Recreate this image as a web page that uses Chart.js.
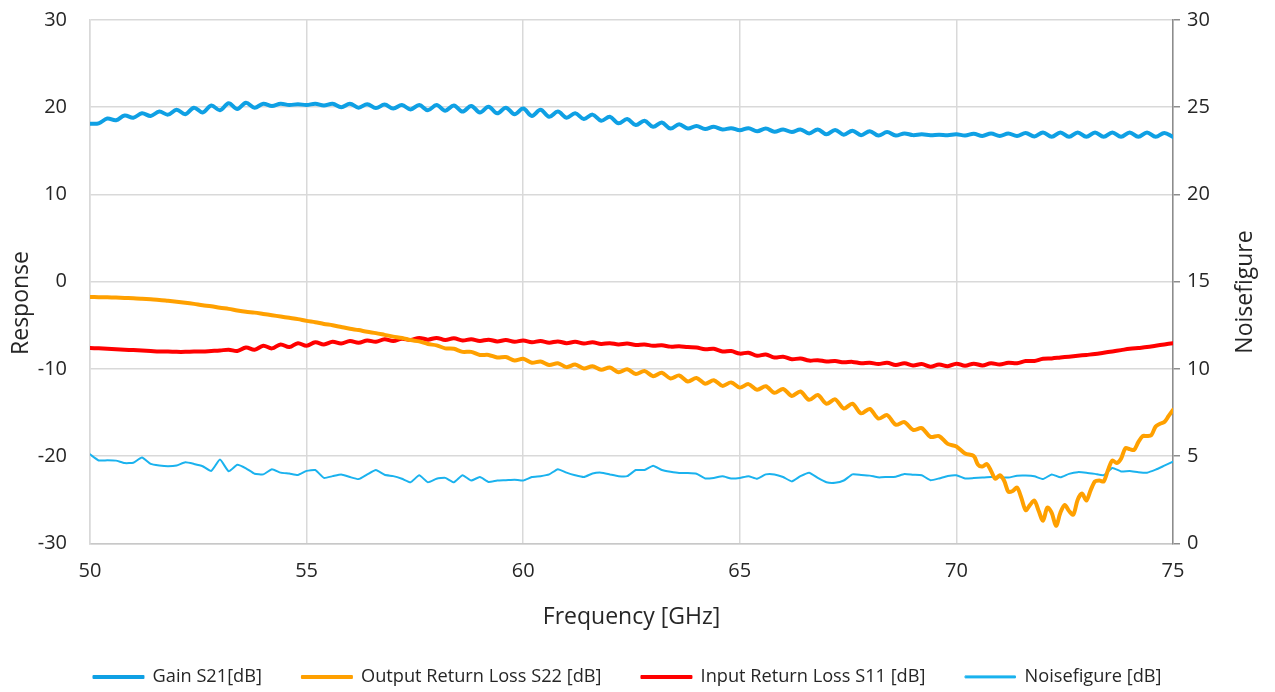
<!DOCTYPE html>
<html>
<head>
<meta charset="utf-8">
<script src="https://cdn.jsdelivr.net/npm/chart.js@4.4.1/dist/chart.umd.min.js"></script>
<style>
  html, body { margin: 0; padding: 0; background: #fff; }
  #wrap { width: 1275px; height: 692px; position: relative; }
</style>
</head>
<body>
<div id="wrap"><canvas id="chart"></canvas></div>
<script>
// ==========================================
// DATA
// ==========================================
const seriesNames = ['Gain S21[dB]', 'Output Return Loss S22 [dB]', 'Input Return Loss S11 [dB]', 'Noisefigure [dB]'];
const xTicks = [50, 55, 60, 65, 70, 75];
const responseTicks = [-30, -20, -10, 0, 10, 20, 30];
const noiseTicks = [0, 5, 10, 15, 20, 25, 30];

// frequency sweep [GHz], 0.2 GHz steps
const freq = [
  50, 50.2, 50.4, 50.6, 50.8, 51, 51.2, 51.4, 51.6, 51.8,
  52, 52.2, 52.4, 52.6, 52.8, 53, 53.2, 53.4, 53.6, 53.8,
  54, 54.2, 54.4, 54.6, 54.8, 55, 55.2, 55.4, 55.6, 55.8,
  56, 56.2, 56.4, 56.6, 56.8, 57, 57.2, 57.4, 57.6, 57.8,
  58, 58.2, 58.4, 58.6, 58.8, 59, 59.2, 59.4, 59.6, 59.8,
  60, 60.2, 60.4, 60.6, 60.8, 61, 61.2, 61.4, 61.6, 61.8,
  62, 62.2, 62.4, 62.6, 62.8, 63, 63.2, 63.4, 63.6, 63.8,
  64, 64.2, 64.4, 64.6, 64.8, 65, 65.2, 65.4, 65.6, 65.8,
  66, 66.2, 66.4, 66.6, 66.8, 67, 67.2, 67.4, 67.6, 67.8,
  68, 68.2, 68.4, 68.6, 68.8, 69, 69.2, 69.4, 69.6, 69.8,
  70, 70.2, 70.4, 70.6, 70.8, 71, 71.2, 71.4, 71.6, 71.8,
  72, 72.2, 72.4, 72.6, 72.8, 73, 73.2, 73.4, 73.6, 73.8,
  74, 74.2, 74.4, 74.6, 74.8, 75
];

const gainS21 = [
  18.1, 18.15, 18.7, 18.5, 19.05, 18.8, 19.3, 19.0, 19.5, 19.15,
  19.7, 19.2, 19.95, 19.4, 20.2, 19.65, 20.45, 19.8, 20.5, 19.95,
  20.4, 20.15, 20.4, 20.25, 20.35, 20.25, 20.4, 20.2, 20.4, 20.0,
  20.4, 19.95, 20.35, 19.9, 20.3, 19.85, 20.25, 19.75, 20.25, 19.65,
  20.25, 19.6, 20.2, 19.5, 20.15, 19.4, 20.05, 19.3, 19.95, 19.2,
  19.85, 19.0, 19.7, 18.9, 19.5, 18.8, 19.3, 18.65, 19.15, 18.45,
  18.9, 18.15, 18.65, 17.95, 18.45, 17.75, 18.25, 17.55, 18.05, 17.55,
  17.85, 17.5, 17.75, 17.45, 17.6, 17.35, 17.6, 17.25, 17.55, 17.2,
  17.45, 17.15, 17.45, 17.0, 17.45, 16.9, 17.4, 16.85, 17.3, 16.8,
  17.25, 16.75, 17.15, 16.75, 17.0, 16.8, 16.9, 16.8, 16.85, 16.8,
  16.9, 16.75, 16.95, 16.7, 17.0, 16.7, 17.0, 16.7, 17.05, 16.65,
  17.1, 16.6, 17.1, 16.6, 17.1, 16.6, 17.1, 16.6, 17.1, 16.6,
  17.1, 16.6, 17.1, 16.6, 17.05, 16.6
];

// S22 has a finer sweep in the dip (70.5 - 75 GHz, 0.1 GHz steps)
const s22DipFreq = [
  70.5, 70.6, 70.7, 70.8, 70.9, 71, 71.1, 71.2, 71.3, 71.4,
  71.5, 71.6, 71.7, 71.8, 71.9, 72, 72.1, 72.2, 72.3, 72.4,
  72.5, 72.6, 72.7, 72.8, 72.9, 73, 73.1, 73.2, 73.3, 73.4,
  73.5, 73.6, 73.7, 73.8, 73.9, 74, 74.1, 74.2, 74.3, 74.4,
  74.5, 74.6, 74.7, 74.8, 74.9, 75
];
const s22Freq = freq.slice(0, 103).concat(s22DipFreq);
const outputRlS22 = [
  -1.75, -1.78, -1.8, -1.83, -1.87, -1.9, -1.96, -2.03, -2.1, -2.2,
  -2.3, -2.42, -2.55, -2.7, -2.82, -3.0, -3.12, -3.3, -3.45, -3.55,
  -3.7, -3.85, -4.0, -4.15, -4.3, -4.5, -4.65, -4.85, -5.0, -5.2,
  -5.4, -5.55, -5.75, -5.9, -6.1, -6.3, -6.45, -6.7, -6.85, -7.15,
  -7.3, -7.65, -7.7, -8.05, -8.05, -8.4, -8.4, -8.7, -8.65, -9.05,
  -8.85, -9.3, -9.15, -9.55, -9.35, -9.8, -9.5, -9.95, -9.7, -10.1,
  -9.85, -10.4, -10.05, -10.6, -10.25, -10.85, -10.45, -11.1, -10.75, -11.45,
  -11.05, -11.7, -11.3, -11.95, -11.55, -12.15, -11.75, -12.4, -12.0, -12.75,
  -12.3, -13.1, -12.6, -13.55, -13.0, -14.0, -13.5, -14.55, -14.0, -15.1,
  -14.6, -15.7, -15.3, -16.4, -16.1, -17.0, -16.8, -17.8, -17.7, -18.6,
  -18.9, -19.7, -20.0,
  // dip
  -21.0, -21.2, -20.9, -21.7, -22.6, -22.2, -22.8, -24.1, -24.0, -23.6,
  -24.8, -26.2, -25.6, -25.1, -26.3, -27.4, -25.9, -26.5, -28.0, -26.5,
  -25.6, -26.3, -26.7, -25.0, -24.3, -25.1, -23.9, -22.9, -22.8, -22.9,
  -21.6, -20.5, -20.8, -20.3, -19.1, -19.2, -19.3, -18.4, -17.7, -17.7,
  -17.6, -16.6, -16.3, -16.1, -15.4, -14.7
];

const inputRlS11 = [
  -7.6, -7.65, -7.7, -7.75, -7.8, -7.85, -7.9, -7.95, -8.0, -8.0,
  -8.05, -8.05, -8.0, -8.0, -7.95, -7.9, -7.8, -7.95, -7.55, -7.8,
  -7.35, -7.65, -7.2, -7.5, -7.05, -7.35, -6.95, -7.2, -6.9, -7.1,
  -6.8, -7.0, -6.75, -6.9, -6.6, -6.8, -6.55, -6.7, -6.45, -6.65,
  -6.45, -6.7, -6.5, -6.75, -6.6, -6.8, -6.65, -6.85, -6.7, -6.9,
  -6.75, -6.95, -6.8, -7.0, -6.85, -7.05, -6.9, -7.1, -6.95, -7.15,
  -7.05, -7.2, -7.1, -7.25, -7.2, -7.35, -7.3, -7.45, -7.4, -7.5,
  -7.55, -7.75, -7.7, -8.0, -7.95, -8.25, -8.15, -8.5, -8.35, -8.7,
  -8.6, -8.9, -8.8, -9.05, -9.0, -9.15, -9.1, -9.25, -9.2, -9.35,
  -9.3, -9.45, -9.3, -9.55, -9.35, -9.6, -9.45, -9.75, -9.5, -9.7,
  -9.4, -9.65, -9.4, -9.6, -9.35, -9.5, -9.3, -9.35, -9.1, -9.1,
  -8.85, -8.8, -8.7, -8.6, -8.5, -8.4, -8.3, -8.15, -8.0, -7.85,
  -7.7, -7.6, -7.5, -7.35, -7.2, -7.05
];

// right axis
const noiseFigure = [
  5.1, 4.75, 4.76, 4.74, 4.6, 4.62, 4.92, 4.55, 4.46, 4.42,
  4.46, 4.64, 4.55, 4.42, 4.15, 4.8, 4.13, 4.5, 4.3, 3.99,
  3.95, 4.25, 4.05, 4.0, 3.92, 4.15, 4.2, 3.75, 3.85, 3.95,
  3.8, 3.68, 3.95, 4.2, 3.93, 3.85, 3.7, 3.5, 3.9, 3.5,
  3.7, 3.75, 3.5, 3.9, 3.6, 3.8, 3.52, 3.6, 3.62, 3.65,
  3.6, 3.8, 3.85, 3.95, 4.25, 4.05, 3.9, 3.8, 4.0, 4.05,
  3.95, 3.85, 3.85, 4.2, 4.2, 4.45, 4.2, 4.1, 4.03, 4.03,
  3.99, 3.72, 3.75, 3.84, 3.72, 3.75, 3.85, 3.7, 3.95, 3.95,
  3.8, 3.55, 3.85, 4.05, 3.75, 3.5, 3.47, 3.6, 3.95, 3.92,
  3.88, 3.78, 3.8, 3.82, 3.97, 3.93, 3.9, 3.62, 3.72, 3.86,
  3.9, 3.72, 3.74, 3.77, 3.8, 3.78, 3.77, 3.87, 3.88, 3.84,
  3.68, 3.95, 3.78, 3.98, 4.08, 4.05, 3.98, 3.9, 4.32, 4.12,
  4.15, 4.08, 4.05, 4.22, 4.45, 4.68
];

// ==========================================
// CHART
// ==========================================
const FONT = '"Open Sans", "Liberation Sans", sans-serif';
const TEXT = '#262626';
const GRID = '#d9d9d9';
Chart.defaults.font.family = FONT;
Chart.defaults.color = TEXT;

function pairs(xs, ys) {
  return ys.map((y, i) => ({ x: xs[i], y: y }));
}

// y axis titles read bottom-to-top on both sides
const sideTitles = {
  id: 'sideTitles',
  afterDraw(chart) {
    const ctx = chart.ctx;
    const drawRotated = (text, x, y) => {
      ctx.save();
      ctx.translate(x, y);
      ctx.rotate(-Math.PI / 2);
      ctx.font = '23px ' + FONT;
      ctx.fillStyle = TEXT;
      ctx.textAlign = 'center';
      ctx.textBaseline = 'middle';
      ctx.fillText(text, 0, 0);
      ctx.restore();
    };
    drawRotated('Response', 21, 303);
    drawRotated('Noisefigure', 1245, 292);
  }
};

const ctx = document.getElementById('chart').getContext('2d');
new Chart(ctx, {
  type: 'line',
  data: {
    datasets: [
      {
        label: seriesNames[0],
        data: pairs(freq, gainS21),
        borderColor: '#0fa0e4',
        backgroundColor: '#0fa0e4',
        borderWidth: 4,
        tension: 0.35,
        yAxisID: 'y'
      },
      {
        label: seriesNames[1],
        data: pairs(s22Freq, outputRlS22),
        borderColor: '#ffa000',
        backgroundColor: '#ffa000',
        borderWidth: 4,
        tension: 0.3,
        yAxisID: 'y'
      },
      {
        label: seriesNames[2],
        data: pairs(freq, inputRlS11),
        borderColor: '#ff0000',
        backgroundColor: '#ff0000',
        borderWidth: 4,
        tension: 0.35,
        yAxisID: 'y'
      },
      {
        label: seriesNames[3],
        data: pairs(freq, noiseFigure),
        borderColor: '#1ab2ee',
        backgroundColor: '#1ab2ee',
        borderWidth: 2,
        tension: 0.15,
        yAxisID: 'y1'
      }
    ]
  },
  options: {
    responsive: true,
    maintainAspectRatio: false,
    animation: false,
    events: [],
    elements: { point: { radius: 0 }, line: { borderJoinStyle: 'round', borderCapStyle: 'round' } },
    layout: { padding: { top: 20, left: 0, right: 20, bottom: -4 } },
    plugins: {
      tooltip: { enabled: false },
      legend: {
        position: 'bottom',
        labels: {
          boxWidth: 50,
          boxHeight: 2,
          padding: 40,
          color: TEXT,
          font: { size: 18.2 },
          generateLabels: (chart) =>
            Chart.defaults.plugins.legend.labels.generateLabels(chart)
              .map(l => Object.assign(l, { lineWidth: l.lineWidth / 2 }))
        }
      }
    },
    scales: {
      x: {
        type: 'linear',
        min: xTicks[0],
        max: xTicks[xTicks.length - 1],
        afterBuildTicks: (scale) => { scale.ticks = xTicks.map(v => ({ value: v })); },
        ticks: { padding: 16, font: { size: 20 }, color: TEXT },
        grid: { color: GRID, lineWidth: 1.5, drawTicks: false },
        border: { color: '#c8c8c8', width: 1.5 },
        title: { display: true, text: 'Frequency [GHz]', font: { size: 23 }, color: TEXT, padding: { top: 0, bottom: -3 } },
        afterFit: (scale) => { scale.height = 84.5; }
      },
      y: {
        position: 'left',
        min: responseTicks[0],
        max: responseTicks[responseTicks.length - 1],
        afterBuildTicks: (scale) => { scale.ticks = responseTicks.map(v => ({ value: v })); },
        ticks: { padding: 0, font: { size: 20 }, color: TEXT },
        // invisible tick marks push the labels away from the plot edge
        grid: { color: GRID, lineWidth: 1.5, drawTicks: true, tickLength: 23, tickColor: 'rgba(0,0,0,0)' },
        border: { color: GRID, width: 1.5 },
        afterFit: (scale) => { scale.width = 90; }
      },
      y1: {
        position: 'right',
        min: noiseTicks[0],
        max: noiseTicks[noiseTicks.length - 1],
        afterBuildTicks: (scale) => { scale.ticks = noiseTicks.map(v => ({ value: v })); },
        ticks: { padding: 7, font: { size: 20 }, color: TEXT },
        grid: { drawOnChartArea: false, drawTicks: true, tickLength: 7, color: '#8c8c8c', lineWidth: 1.5 },
        border: { color: '#8c8c8c', width: 1.5 },
        afterFit: (scale) => { scale.width = 82; }
      }
    }
  },
  plugins: [sideTitles]
});
</script>
</body>
</html>
